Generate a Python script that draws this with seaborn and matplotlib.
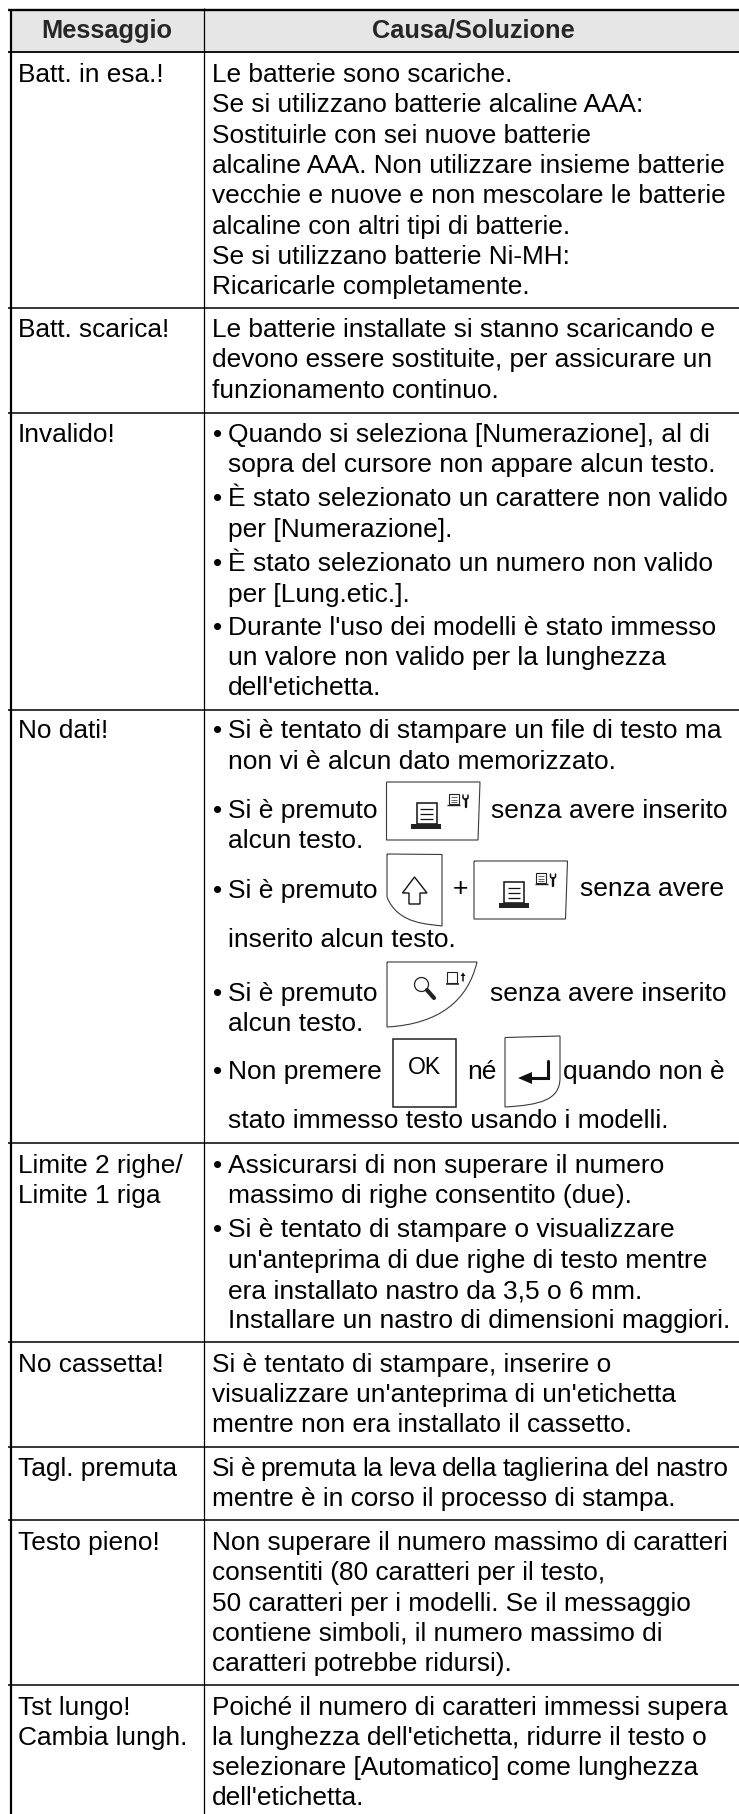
import numpy as np
import seaborn as sns
import matplotlib
matplotlib.use("Agg")
import matplotlib.pyplot as plt
from matplotlib.colors import ListedColormap
from matplotlib.patches import Circle, PathPatch, Polygon, Rectangle
from matplotlib.path import Path

# Contenuto della tabella
HEADERS = ["Messaggio", "Causa/Soluzione"]
MESSAGGI = [
    ["Batt. in esa.!"],
    ["Batt. scarica!"],
    ["Invalido!"],
    ["No dati!"],
    ["Limite 2 righe/", "Limite 1 riga"],
    ["No cassetta!"],
    ["Tagl. premuta"],
    ["Testo pieno!"],
    ["Tst lungo!", "Cambia lungh."],
]
TESTO_SEMPLICE = [
    "Le batterie sono scariche.",
    "Se si utilizzano batterie alcaline AAA:",
    "Sostituirle con sei nuove batterie",
    "alcaline AAA. Non utilizzare insieme batterie",
    "vecchie e nuove e non mescolare le batterie",
    "alcaline con altri tipi di batterie.",
    "Se si utilizzano batterie Ni-MH:",
    "Ricaricarle completamente.",
    "Le batterie installate si stanno scaricando e",
    "devono essere sostituite, per assicurare un",
    "funzionamento continuo.",
    "Si è tentato di stampare, inserire o",
    "visualizzare un'anteprima di un'etichetta",
    "mentre non era installato il cassetto.",
    "Si è premuta la leva della taglierina del nastro",
    "mentre è in corso il processo di stampa.",
    "Non superare il numero massimo di caratteri",
    "consentiti (80 caratteri per il testo,",
    "50 caratteri per i modelli. Se il messaggio",
    "contiene simboli, il numero massimo di",
    "caratteri potrebbe ridursi).",
    "Poiché il numero di caratteri immessi supera",
    "la lunghezza dell'etichetta, ridurre il testo o",
    "selezionare [Automatico] come lunghezza",
    "dell'etichetta.",
]
TESTO_PUNTATO = [
    "Quando si seleziona [Numerazione], al di",
    "sopra del cursore non appare alcun testo.",
    "È stato selezionato un carattere non valido",
    "per [Numerazione].",
    "È stato selezionato un numero non valido",
    "per [Lung.etic.].",
    "Durante l'uso dei modelli è stato immesso",
    "un valore non valido per la lunghezza",
    "dell'etichetta.",
    "Si è tentato di stampare un file di testo ma",
    "non vi è alcun dato memorizzato.",
    "Si è premuto",
    "alcun testo.",
    "Si è premuto",
    "inserito alcun testo.",
    "Si è premuto",
    "alcun testo.",
    "Non premere",
    "stato immesso testo usando i modelli.",
    "Assicurarsi di non superare il numero",
    "massimo di righe consentito (due).",
    "Si è tentato di stampare o visualizzare",
    "un'anteprima di due righe di testo mentre",
    "era installato nastro da 3,5 o 6 mm.",
    "Installare un nastro di dimensioni maggiori.",
]
FRAMMENTI = ["senza avere inserito", "+", "senza avere", "senza avere inserito", "né", "quando non è"]

# Impaginazione, in pixel dell'immagine
W, H = 739, 1814
FONT_PX = 26.2
FONT_PUNTATO_PX = 26.4
RIGHE_TABELLA = [308, 413, 710, 1143, 1342, 1447, 1520, 1685]
Y_MESSAGGI = [[82], [337], [442], [738], [1173, 1203], [1372], [1476], [1550], [1715, 1745]]
Y_SEMPLICE = [82, 112, 143, 173, 203, 234, 264, 294, 337, 367, 398, 1372, 1402, 1432,
              1476, 1506, 1550, 1580, 1611, 1641, 1671, 1715, 1745, 1775, 1805]
Y_PUNTATO = [442, 472, 506, 537, 571, 602, 635, 665, 695, 738, 769, 818, 848, 898, 947,
             1001, 1031, 1079, 1128, 1173, 1203, 1237, 1268, 1298, 1328]
SENZA_PUNTO = {1, 3, 5, 7, 8, 10, 12, 14, 16, 18, 20, 22, 23, 24}
POS_FRAMMENTI = [(491, 818), (452.5, 896), (580, 896), (490, 1001), (467, 1079), (563, 1079)]
# questa riga nell'originale ha gli spazi stretti
RIGA_STRETTA = 14
FINE_RIGA_STRETTA = 728


def pt(px):
    return px * 72 / 100


def scritta(ax, x, y, s, size=FONT_PX, **kw):
    return ax.text(x, y, s, fontsize=pt(size), va="baseline", color="#000000", **kw)


def scritta_stretta(ax, x, y, s, x_fine):
    # parola per parola, con lo spazio ricavato dalla larghezza finale
    renderer = ax.figure.canvas.get_renderer()
    parole = [scritta(ax, x, y, p) for p in s.split()]
    larghezze = [p.get_window_extent(renderer).width for p in parole]
    spazio = (x_fine - x - sum(larghezze)) / (len(parole) - 1)
    for parola, largh in zip(parole, larghezze):
        parola.set_x(x)
        x += largh + spazio


def contorno(ax, verts, codes=None, lw=0.8, color="#3a3a3a"):
    if codes is None:
        codes = [Path.MOVETO] + [Path.LINETO] * (len(verts) - 1)
    ax.add_patch(PathPatch(Path(verts, codes), fc="none", ec=color, lw=lw))


def icona_menu(ax, x0, y0):
    # tasto con il foglio grande e il foglietto con la chiave
    contorno(ax, [(x0, y0), (x0 + 93.5, y0), (x0 + 91.5, y0 + 58), (x0, y0 + 58), (x0, y0)])
    ax.add_patch(Rectangle((x0 + 30, y0 + 21), 20, 21, fc="white", ec="#111111", lw=1.1))
    ax.add_patch(Rectangle((x0 + 24.5, y0 + 42), 30, 4.5, fc="#222222", ec="none"))
    ax.hlines([y0 + 27, y0 + 32, y0 + 37], x0 + 33.5, x0 + 46, color="#111111", lw=0.9)
    ax.add_patch(Rectangle((x0 + 62, y0 + 12), 10, 10, fc="white", ec="#222222", lw=0.8))
    ax.hlines([y0 + 15, y0 + 17.5, y0 + 20], x0 + 64, x0 + 70, color="#222222", lw=0.5)
    ax.hlines(y0 + 23, x0 + 60.5, x0 + 73.5, color="#222222", lw=1)
    ax.plot([x0 + 79, x0 + 79], [y0 + 17, y0 + 25], color="#111111", lw=1.7)
    ax.plot([x0 + 76.5, x0 + 76.5, x0 + 79, x0 + 81.5, x0 + 81.5],
            [y0 + 13, y0 + 16, y0 + 18, y0 + 16, y0 + 13], color="#111111", lw=1.1)


def icona_maiusc(ax):
    contorno(
        ax,
        [(387, 854), (442, 854.5), (442, 926), (430, 924), (398, 925), (387, 897), (387, 854)],
        [Path.MOVETO, Path.LINETO, Path.LINETO, Path.CURVE4, Path.CURVE4, Path.CURVE4, Path.LINETO],
    )
    ax.add_patch(Polygon([(414.5, 877), (427, 893), (420, 893), (420, 904), (409, 904), (409, 893), (402.5, 893)],
                         fc="white", ec="#111111", lw=1.0))


def icona_anteprima(ax):
    contorno(
        ax,
        [(387, 962), (477, 962), (468, 1000), (440, 1024), (387, 1027), (387, 962)],
        [Path.MOVETO, Path.LINETO, Path.CURVE4, Path.CURVE4, Path.CURVE4, Path.LINETO],
    )
    ax.add_patch(Circle((421.5, 984.5), 7, fc="white", ec="#222222", lw=0.9))
    ax.plot([427, 434], [990, 998], color="#222222", lw=3, solid_capstyle="round")
    ax.add_patch(Rectangle((447, 972), 10, 11, fc="white", ec="#222222", lw=0.8))
    ax.hlines(984, 445.5, 459, color="#222222", lw=1.1)
    ax.plot([463, 463], [975, 981], color="#111111", lw=1.1)
    ax.add_patch(Polygon([(463, 972.5), (465.5, 976), (460.5, 976)], fc="#111111", ec="none"))


def icona_ok(ax):
    ax.add_patch(Rectangle((393, 1039), 63, 68, fc="none", ec="#222222", lw=1.1))
    ax.text(424, 1074, "OK", fontsize=pt(23), ha="center", va="baseline", color="#000000")


def icona_invio(ax):
    contorno(
        ax,
        [(505, 1037.5), (560, 1036), (560, 1078), (560, 1100), (540, 1105), (505, 1107), (505, 1037.5)],
        [Path.MOVETO, Path.LINETO, Path.LINETO, Path.CURVE4, Path.CURVE4, Path.CURVE4, Path.LINETO],
    )
    ax.plot([548, 548, 530], [1061, 1078, 1078], color="#111111", lw=2.2, solid_joinstyle="miter")
    ax.add_patch(Polygon([(518, 1078), (532, 1072), (532, 1084)], fc="#111111", ec="none"))


def main():
    sns.set_theme(style="white")
    plt.rcParams["font.family"] = ["Liberation Sans", "DejaVu Sans"]

    fig = plt.figure(figsize=(W / 100, H / 100), dpi=100, facecolor="white")

    # Fondo grigio dell'intestazione
    ax_head = fig.add_axes([11 / W, 1 - 52 / H, 1 - 11 / W, 41 / H])
    sns.heatmap(np.array([[1.0]]), ax=ax_head, cbar=False, cmap=ListedColormap(["#e6e6e6"]),
                xticklabels=False, yticklabels=False)

    ax = fig.add_axes([0, 0, 1, 1])
    ax.set_xlim(0, W)
    ax.set_ylim(H, 0)
    ax.axis("off")

    # Filetti della tabella
    ax.hlines(10, 8, W, color="#000000", lw=1.7)
    ax.hlines(52, 8, W, color="#000000", lw=1.3)
    ax.hlines(RIGHE_TABELLA, 8, W, color="#000000", lw=1.1)
    ax.vlines(10.5, 10, H, color="#000000", lw=1.6)
    ax.vlines(204, 8, H, color="#000000", lw=0.9)

    # Intestazione
    ax.text(107, 38, HEADERS[0], fontsize=pt(25.4), fontweight="bold", ha="center", va="baseline")
    ax.text(473, 38, HEADERS[1], fontsize=pt(25.4), fontweight="bold", ha="center", va="baseline")

    # Prima colonna
    for righe, ys in zip(MESSAGGI, Y_MESSAGGI):
        for riga, y in zip(righe, ys):
            scritta(ax, 18, y, riga)

    # Seconda colonna
    for i, (riga, y) in enumerate(zip(TESTO_SEMPLICE, Y_SEMPLICE)):
        if i == RIGA_STRETTA:
            scritta_stretta(ax, 212, y, riga, FINE_RIGA_STRETTA)
        else:
            scritta(ax, 212, y, riga)
    for i, (riga, y) in enumerate(zip(TESTO_PUNTATO, Y_PUNTATO)):
        if i not in SENZA_PUNTO:
            scritta(ax, 213, y, "•")
        scritta(ax, 228, y, riga, size=FONT_PUNTATO_PX)
    for parte, (x, y) in zip(FRAMMENTI, POS_FRAMMENTI):
        scritta(ax, x, y, parte, size=FONT_PUNTATO_PX)

    # Tasti disegnati nel testo
    icona_menu(ax, 386.5, 782)
    icona_menu(ax, 474, 861)
    icona_maiusc(ax)
    icona_anteprima(ax)
    icona_ok(ax)
    icona_invio(ax)

    fig.savefig("out.png", dpi=100, facecolor="white")
    plt.close(fig)


if __name__ == "__main__":
    main()
